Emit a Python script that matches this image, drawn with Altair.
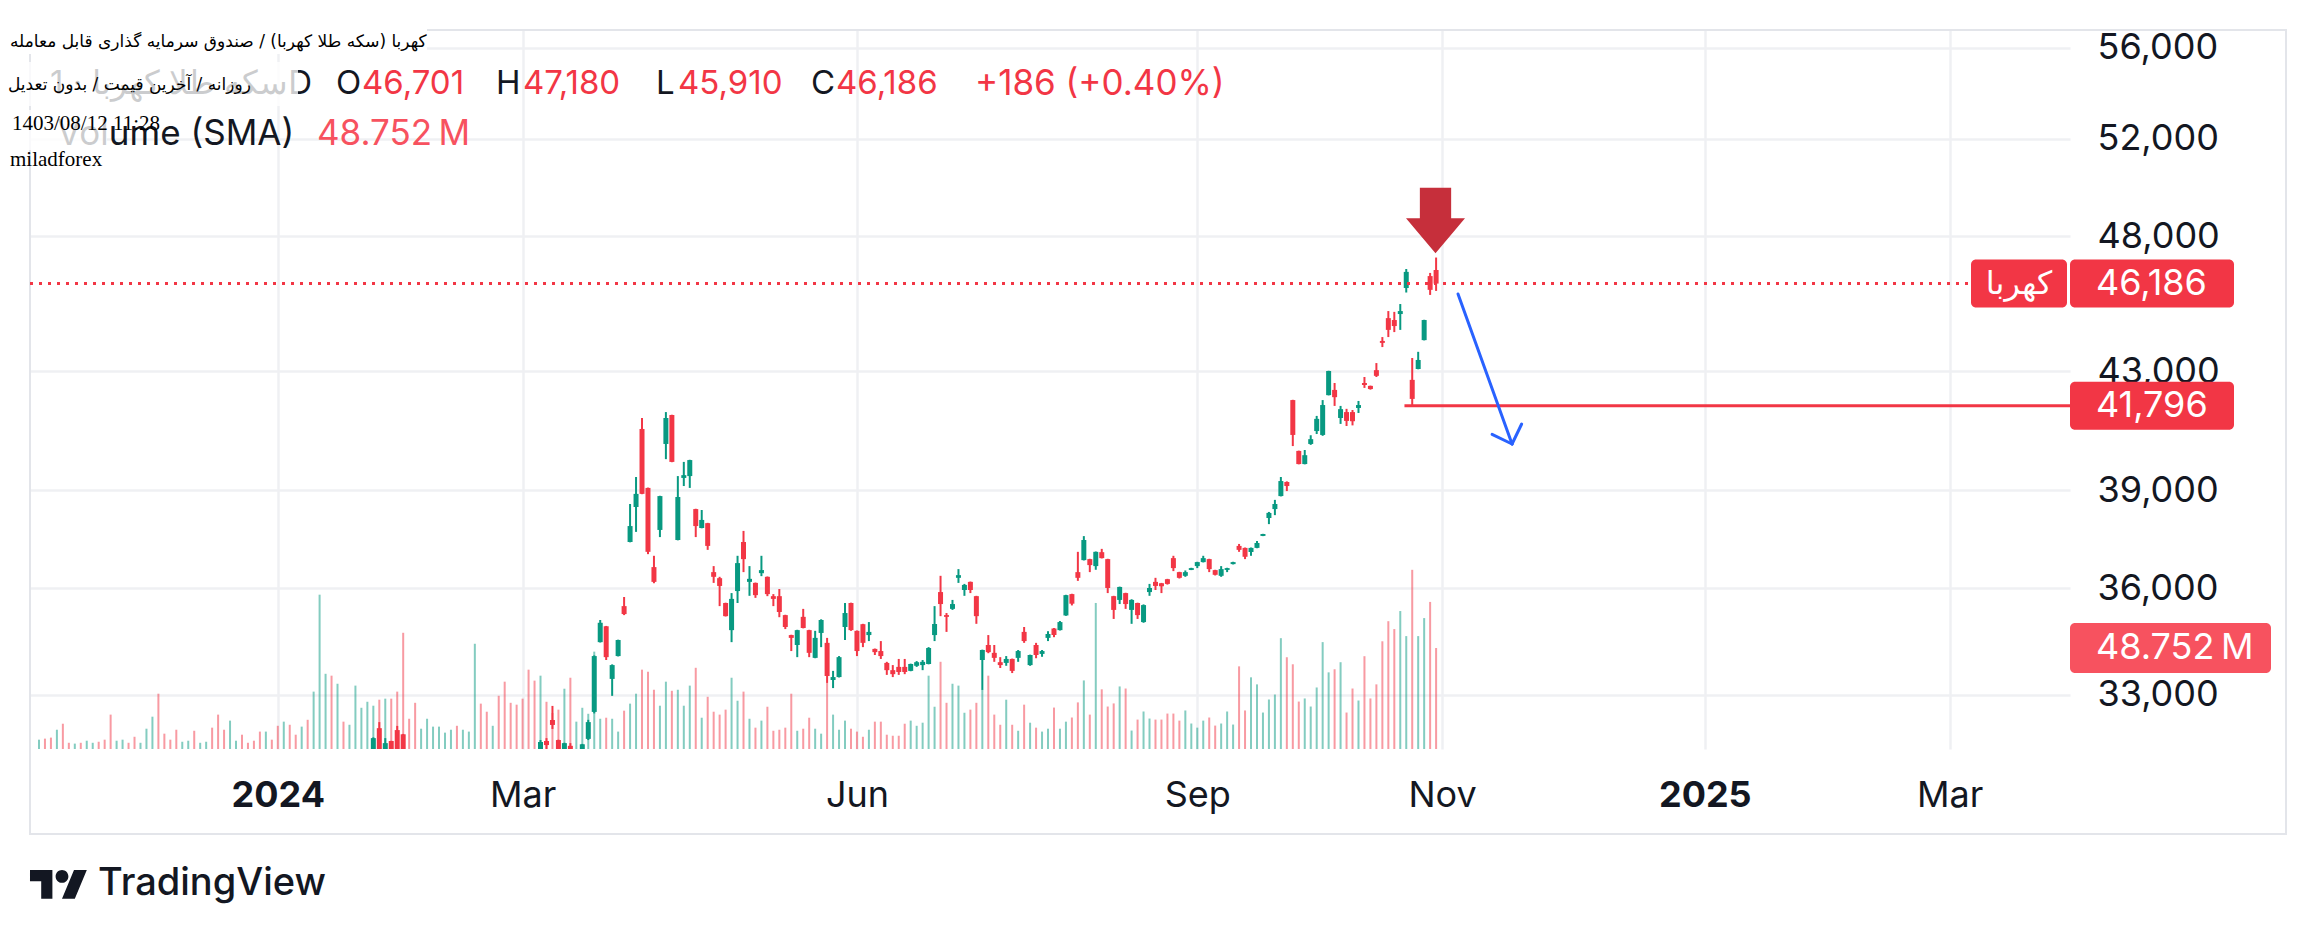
import altair as alt
import pandas as pd

# ---------------- values ----------------
# bar index 0 = first daily bar at the left edge of the chart (early Jan 2024)
first_candle = 56          # candles before this index are below the visible price range

opens = [
    31300, 32110, 31400, 31775,                                              # 56-59
    32060, 31950, None, None, None, None, None, None, None, None,            # 60-69
    None, None, None, None, None, None, None, None, None, None,              # 70-79
    None, None, None, None, 31400, 31775, 32325, 31800, 31450, 31650,        # 80-89
    None, 31450, 31830, 32540, 34450, 34900, 33430, 34060, 35480, 37390,     # 90-99
    38475, 41010, 39080, 36630, 37760, 40510, 41480, 37450, 39400, 39460,    # 100-109
    38410, 37820, 37970, 36480, 36300, 35570, 34790, 35920, 37390, 36190,    # 110-119
    36160, 36450, 36340, 35770, 35770, 35220, 34650, 34370, 35170, 34790,    # 120-129
    34010, 34710, 34430, 33400, 33480, 34880, 35570, 34770, 34960, 34650,    # 130-139
    34260, 34200, 33870, 33670, 33760, 33760, 33650, 33790, 33810, 33840,    # 140-149
    34650, 35890, 35220, 35400, 36310, 35950, 36190, 35770, 33950, 34370,    # 150-159
    34150, 33890, 33870, 33980, 34010, 34740, 33810, 34370, 34120, 34570,    # 160-169
    34840, 34790, 35210, 35830, 36480, 36840, 36870, 36660, 37080, 36870,    # 170-179
    35770, 35660, 35860, 35370, 35570, 35020, 35890, 36190, 36150, 36270,    # 180-189
    36900, 36480, 36370, 36545, 36660, 36780, 36870, 36540, 36370, 36545,    # 190-199
    36720, 37270, 37210, 37085, 37210, 37575, 38130, 38410, 38820, 39270,    # 200-209
    41990, 40280, 39850, 40510, 40940, 40810, 42160, 42340, 41380, 41580,    # 210-219
    41580, 41720, 42580, 42480, 43030, 44070, 44900, 44830, 45050, 46020,    # 220-229
    42690, 43070, 44100, 46470, 46701,                                       # 230-234
]
highs = [
    31870, 32270, 31850, 31780,
    32170, 31960, None, None, None, None, None, None, None, None,
    None, None, None, None, None, None, None, None, None, None,
    None, None, None, None, 31800, 31850, 32700, 31810, 31730, 31720,
    None, 31700, 32330, 34080, 35080, 34910, 33830, 34520, 35745, 38570,
    39430, 41380, 39090, 36970, 38830, 41580, 41490, 39460, 39920, 39990,
    38420, 38380, 37980, 36660, 36340, 35580, 35860, 36970, 37730, 36660,
    36170, 36970, 36350, 35830, 35980, 35230, 34660, 34800, 35400, 34800,
    34770, 35100, 34570, 33650, 34060, 35570, 35580, 34780, 34970, 35020,
    34270, 34480, 33900, 33810, 33980, 33980, 33850, 33920, 33950, 34310,
    35480, 36370, 35280, 35660, 36570, 36130, 36200, 35780, 34240, 34650,
    34370, 34030, 34060, 33990, 34230, 34880, 34100, 34430, 34230, 34760,
    34850, 35050, 35810, 35840, 37090, 37570, 36880, 37100, 37180, 36880,
    35780, 36050, 35870, 35680, 35580, 35530, 36130, 36310, 36160, 36280,
    36970, 36490, 36530, 36610, 36790, 36970, 36880, 36550, 36660, 36610,
    36790, 37330, 37220, 37220, 37420, 37640, 38320, 38700, 39430, 39290,
    42000, 40290, 40310, 40800, 41450, 41990, 43010, 42580, 41790, 41690,
    41650, 41960, 42790, 42490, 43280, 44210, 45160, 45130, 45420, 46740,
    43460, 43680, 44840, 46590, 47180,
]
lows = [
    31200, 31300, 31300, 31350,
    31350, 31300, None, None, None, None, None, None, None, None,
    None, None, None, None, None, None, None, None, None, None,
    None, None, None, None, 31350, 31560, 32090, 31450, 31400, 31450,
    None, 31400, 31800, 32500, 34440, 33950, 32970, 34050, 35220, 37380,
    37700, 38880, 37020, 36150, 37540, 40010, 39910, 37440, 39140, 39080,
    37540, 37810, 37150, 36160, 35480, 35180, 34450, 35570, 36480, 35780,
    35720, 36360, 35770, 35480, 35160, 34820, 34200, 34030, 34840, 34030,
    34000, 34310, 33320, 33180, 33470, 34510, 34770, 34060, 34310, 34480,
    34090, 33980, 33540, 33480, 33540, 33560, 33640, 33760, 33670, 33830,
    34480, 35190, 34740, 35370, 36160, 35780, 35860, 34970, 33130, 34140,
    33900, 33730, 33790, 33590, 33900, 34430, 33790, 34000, 34040, 34480,
    34590, 34780, 35200, 35500, 36220, 36830, 36480, 36550, 36890, 35860,
    35110, 35540, 35400, 34970, 35110, 35000, 35780, 35950, 35860, 36110,
    36510, 36290, 36340, 36540, 36600, 36770, 36480, 36380, 36340, 36480,
    36710, 37090, 36870, 36970, 37200, 37570, 37940, 38220, 38810, 38980,
    40440, 39840, 39840, 40480, 40840, 40780, 42150, 41790, 41180, 41110,
    41130, 41550, 42410, 42350, 42790, 43850, 44210, 44390, 44470, 45850,
    41796, 43060, 44090, 45760, 45910,
]
closes = [
    31850, 31400, 31720, 31400,
    31450, 31400, None, None, None, None, None, None, None, None,
    None, None, None, None, None, None, None, None, None, None,
    None, None, None, None, 31750, 31670, 32195, 31500, 31720, 31500,
    None, 31690, 32270, 34060, 35000, 34030, 33810, 34510, 35250, 37880,
    38890, 38890, 37090, 36190, 38820, 41380, 39920, 38790, 39490, 39980,
    37880, 38070, 37270, 36340, 36070, 35190, 35690, 36750, 36870, 36280,
    35800, 36540, 35830, 35690, 35310, 34880, 34570, 34790, 34850, 34150,
    34570, 35080, 33510, 33480, 34030, 35280, 34790, 34200, 34430, 34740,
    34170, 34060, 33670, 33560, 33620, 33620, 33840, 33890, 33900, 34285,
    34965, 35540, 35170, 35540, 36390, 36100, 35950, 35190, 34230, 34170,
    34010, 33810, 33980, 33650, 34200, 34480, 34090, 34090, 34200, 34680,
    34650, 35020, 35800, 35550, 36310, 37450, 36690, 37090, 36900, 36010,
    35370, 36040, 35540, 35660, 35220, 35510, 36010, 36070, 36060, 36130,
    36600, 36310, 36480, 36600, 36780, 36900, 36570, 36400, 36570, 36600,
    36780, 37150, 36940, 37210, 37360, 37635, 38290, 38570, 39300, 39140,
    40810, 39850, 40140, 40670, 41350, 41820, 43000, 42090, 41680, 41280,
    41270, 41820, 42510, 42370, 42830, 44000, 44470, 44610, 45160, 46630,
    42030, 43390, 44830, 45950, 46186,
]

# volume per bar, millions
volumes = [
    4.5, 5.0, 5.5, 9.3, 12.2, 3.0, 2.6, 3.0, 4.0, 3.0,
    3.5, 4.5, 16.6, 4.0, 4.5, 3.0, 5.9, 3.0, 9.8, 15.6,
    26.7, 7.4, 4.5, 9.3, 3.5, 4.0, 8.8, 3.0, 3.5, 10.3,
    16.6, 9.3, 13.7, 4.0, 6.9, 3.0, 4.0, 8.4, 8.4, 4.5,
    11.2, 13.2, 11.7, 6.9, 10.8, 14.1, 27.7, 74.5, 36.3, 35.4,
    31.5, 13.2, 11.7, 30.6, 19.9, 22.8, 20.9, 23.8, 24.3, 24.3,
    27.7, 56.1, 14.6, 22.3, 9.8, 14.6, 10.8, 10.8, 7.9, 9.3,
    11.2, 9.3, 8.4, 50.8, 21.9, 18.0, 11.2, 25.7, 32.5, 22.3,
    21.4, 24.3, 38.3, 33.0, 35.4, 22.8, 17.4, 19.0, 29.1, 34.4,
    13.2, 19.9, 17.0, 47.0, 14.6, 15.1, 14.6, 8.4, 18.5, 21.9,
    26.7, 38.3, 37.3, 28.6, 20.9, 32.5, 28.1, 28.6, 20.9, 30.6,
    39.2, 15.1, 25.2, 18.0, 16.6, 19.0, 34.4, 23.3, 27.7, 14.6,
    10.3, 13.7, 20.4, 8.8, 9.3, 10.3, 26.7, 8.8, 9.8, 15.1,
    9.8, 7.4, 31.9, 16.6, 9.3, 13.7, 9.8, 8.4, 5.9, 9.3,
    13.2, 13.2, 6.9, 6.4, 6.4, 12.2, 13.7, 11.2, 12.7, 35.4,
    20.4, 42.1, 22.3, 31.5, 30.6, 17.5, 19.0, 22.3, 28.6, 35.4,
    16.6, 11.7, 23.8, 11.7, 8.8, 21.4, 12.7, 10.3, 8.4, 9.8,
    20.0, 9.8, 13.2, 15.2, 22.5, 33.1, 16.6, 70.5, 28.8, 20.5,
    22.0, 30.2, 29.2, 8.9, 14.2, 18.1, 14.7, 14.2, 14.2, 17.1,
    17.1, 13.7, 18.6, 12.3, 10.3, 13.7, 15.2, 11.3, 12.3, 18.1,
    11.8, 39.9, 18.6, 34.6, 31.2, 17.6, 23.9, 26.3, 53.5, 44.3,
    40.9, 22.9, 24.4, 20.5, 29.7, 51.6, 37.0, 38.5, 41.9, 17.6,
    29.2, 23.4, 44.8, 24.4, 31.2, 52.0, 61.7, 57.9, 66.6, 54.5,
    86.5, 54.5, 63.2, 71.0, 48.752,
]
# bar direction (g = up, r = down)
directions = list(
    "grrgrrgrgg" "rrrggrrggg" "rrrrggrggr" "rrggrrrrgr" "rgrrgrgggr"
    "grgggggrgr" "rrrrgggggg" "rgggrrgrrr" "rrrrgrrrgr" "gggggrggrg"
    "grrrggrggg" "rgrrrrggrg" "rgrrrrrgrr" "ggrgggrrrg" "rrrrrrgggg"
    "grrgggrrgr" "rrgrgrgrgg" "rggrrgrgrr" "rgrgrggrrr" "rrggggrrgg"
    "grrggggggr" "rrgggggrgr" "rgrrrrrrgg" "rggrr"
)

x_tick_index = [40, 81, 137, 194, 235, 279, 320]
x_tick_labels = ["2024", "Mar", "Jun", "Sep", "Nov", "2025", "Mar"]
price_ticks = [33000, 36000, 39000, 43000, 48000, 52000, 56000]

last_open, last_high, last_low, last_close = 46701, 47180, 45910, 46186
change, change_pct = 186, 0.40
last_volume = 48.752
symbol = "کهربا"
support_price = 41796
support_from_index = 228.7

arrow_seg = ["shaft", "shaft", "left", "left", "right", "right"]
arrow_idx = [237.67, 246.72, 243.38, 246.72, 248.33, 246.72]
arrow_price = [45794, 40509, 40831, 40509, 41176, 40509]
arrow_step = [0, 1, 0, 1, 0, 1]
marker_idx, marker_price = 233.9, 48630

title_fa = "کهربا (سکه طلا کهربا) / صندوق سرمایه گذاری قابل معامله"
subtitle_fa = "روزانه / آخرین قیمت / بدون تعدیل"
legend_name = "سکه طلا کهربا · 1D"
stamp = "1403/08/12 11:28"
author = "miladforex"

assert len(volumes) == len(directions) == 235
assert len(opens) == len(highs) == len(lows) == len(closes) == 235 - first_candle

# ---------------- tables ----------------
n = len(volumes)
vol_df = pd.DataFrame({"i": list(range(n)), "vol": volumes, "zero": [0] * n, "dir": directions})
cdf = pd.DataFrame({
    "i": list(range(first_candle, n)),
    "open": opens, "high": highs, "low": lows, "close": closes,
})
cdf["dir"] = [directions[i] for i in cdf["i"]]
cdf = cdf.dropna().reset_index(drop=True)

UP, DOWN, TEXT, GRID = "#089981", "#F23645", "#131722", "#EFF0F3"

XS = alt.Scale(domain=[-0.667, 339.333], nice=False, zero=False)
YS = alt.Scale(type="log", domain=[31568, 56827], nice=False)
VS = alt.Scale(domain=[0, 347.1], nice=False, zero=True)

label_expr = " : ".join(f"datum.value == {v} ? '{l}'" for v, l in zip(x_tick_index, x_tick_labels)) + " : ''"
year_test = " || ".join(f"datum.value == {v}" for v, l in zip(x_tick_index, x_tick_labels) if l.isdigit())

XAXIS = alt.Axis(values=x_tick_index, labelExpr=label_expr, title=None, grid=True, gridColor=GRID,
                 gridWidth=2.5, domain=False, ticks=False, tickSize=0, labelPadding=46,
                 labelBaseline="middle", labelFont="Inter", labelFontSize=36, labelColor=TEXT,
                 labelFontWeight={"condition": {"test": year_test, "value": "bold"}, "value": "normal"},
                 labelOverlap=False, labelFlush=False)
YAXIS = alt.Axis(orient="right", values=price_ticks, format=",.0f", title=None, grid=True,
                 gridColor=GRID, gridWidth=2.5, domain=False, ticks=False, tickSize=0,
                 labelPadding=27, labelFont="Inter", labelFontSize=36, labelColor=TEXT,
                 labelBaseline="middle", labelOverlap=False)


def X(f):
    return alt.X(f"{f}:Q", scale=XS, axis=XAXIS)


def Y(f):
    return alt.Y(f"{f}:Q", scale=YS, axis=YAXIS)


def V(f):
    return alt.Y(f"{f}:Q", scale=VS, axis=None)


COLOR = alt.Color("dir:N", scale=alt.Scale(domain=["g", "r"], range=[UP, DOWN]), legend=None)

# ---------------- volume pane ----------------
vlab = pd.DataFrame({"vol": [last_volume], "txt": [f"{last_volume:.3f}\u2009M"]})
vol_bars = alt.Chart(vol_df).mark_rule(strokeWidth=2, opacity=0.5).encode(
    x=X("i"), y=V("vol"), y2=alt.Y2("zero"), color=COLOR)
vol_box = alt.Chart(vlab).mark_rect(color="#F7525F", cornerRadius=5, yOffset=-25, y2Offset=25).encode(
    x=alt.value(2040), x2=alt.value(2241), y=V("vol"), y2=alt.Y2("vol"))
vol_txt = alt.Chart(vlab).mark_text(align="left", baseline="middle", font="Inter", fontSize=36, color="white").encode(
    x=alt.value(2066), y=V("vol"), text="txt:N")
vol_group = alt.layer(vol_bars, vol_box, vol_txt)

# ---------------- price pane ----------------
last_df = pd.DataFrame({"p": [last_close], "txt": [f"{last_close:,}"]})
sup_df = pd.DataFrame({"i": [support_from_index], "p": [support_price], "txt": [f"{support_price:,}"]})
arrow_df = pd.DataFrame({"seg": arrow_seg, "i": arrow_idx, "p": arrow_price, "k": arrow_step})
marker_df = pd.DataFrame({"i": [marker_idx], "p": [marker_price]})
boxes_df = pd.concat([last_df, sup_df[["p", "txt"]]], ignore_index=True)

DOWN_ARROW = ("M -0.474 -0.994 L 0.474 -0.994 L 0.474 -0.067 L 0.894 -0.067 L 0 0.994 "
              "L -0.894 -0.067 L -0.474 -0.067 Z")

wicks = alt.Chart(cdf).mark_rule(strokeWidth=2, clip=True).encode(
    x=X("i"), y=Y("low"), y2=alt.Y2("high"), color=COLOR)
bodies = alt.Chart(cdf).mark_bar(size=5, clip=True).encode(
    x=X("i"), y=Y("open"), y2=alt.Y2("close"), color=COLOR)
last_line = alt.Chart(last_df).mark_rule(color=DOWN, strokeWidth=3, strokeDash=[3, 6]).encode(
    x=alt.value(0), x2=alt.value(1941), y=Y("p"))
sup_line = alt.Chart(sup_df).mark_rule(color=DOWN, strokeWidth=3).encode(
    x=X("i"), x2=alt.value(2040), y=Y("p"))
arrow = alt.Chart(arrow_df).mark_line(color="#2962FF", strokeWidth=3, strokeCap="round", strokeJoin="round").encode(
    x=X("i"), y=Y("p"), detail="seg:N", order="k:Q")
marker = alt.Chart(marker_df).mark_point(shape=DOWN_ARROW, filled=True, size=4356, color="#C62F3B",
                                        opacity=1, strokeWidth=0).encode(x=X("i"), y=Y("p"))
sym_box = alt.Chart(last_df).mark_rect(color=DOWN, cornerRadius=5, yOffset=-24, y2Offset=24).encode(
    x=alt.value(1941), x2=alt.value(2037), y=Y("p"), y2=alt.Y2("p"))
sym_txt = alt.Chart(last_df).mark_text(text=symbol, align="center", baseline="middle", font="DejaVu Sans",
                                       fontSize=32, color="white").encode(x=alt.value(1989), y=Y("p"))
p_box = alt.Chart(boxes_df).mark_rect(color=DOWN, cornerRadius=5, yOffset=-24, y2Offset=24).encode(
    x=alt.value(2040), x2=alt.value(2204), y=Y("p"), y2=alt.Y2("p"))
p_txt = alt.Chart(boxes_df).mark_text(align="left", baseline="middle", font="Inter", fontSize=36, color="white").encode(
    x=alt.value(2066), y=Y("p"), text="txt:N")
price_group = alt.layer(wicks, bodies, last_line, sup_line, arrow, marker, sym_box, sym_txt, p_box, p_txt)

# ---------------- decoration: frame, legend, notes, footer ----------------
one = pd.DataFrame({"k": [0]})


def label(text, x, y, size, color=TEXT, font="Inter", align="left", weight="normal"):
    return alt.Chart(one).mark_text(text=text, font=font, fontSize=size, color=color, align=align,
                                    baseline="middle", fontWeight=weight).encode(x=alt.value(x), y=alt.value(y))


def panel(x, x2, y, y2, opacity):
    return alt.Chart(one).mark_rect(color="white", opacity=opacity).encode(
        x=alt.value(x), x2=alt.value(x2), y=alt.value(y), y2=alt.value(y2))


frame = alt.Chart(one).mark_rect(fillOpacity=0, stroke="#E3E5EA", strokeWidth=2).encode(
    x=alt.value(0), x2=alt.value(2256), y=alt.value(0), y2=alt.value(804))

legend = [
    label(legend_name, 282, 54, 33, align="right"),
    label("O", 306, 54, 33), label(f"{last_open:,}", 332, 54, 33, color=DOWN),
    label("H", 466, 54, 33), label(f"{last_high:,}", 493, 54, 33, color=DOWN),
    label("L", 626, 54, 33), label(f"{last_low:,}", 648, 54, 33, color=DOWN),
    label("C", 781, 54, 33), label(f"{last_close:,}", 806, 54, 33, color=DOWN),
    label(f"+{change} (+{change_pct:.2f}%)", 945, 54, 35, color=DOWN),
    label("Volume (SMA)", 27, 104, 35),
    label(f"{last_volume:.3f}\u2009M", 287, 104, 35, color="#F7525F"),
]
notes = [
    panel(-22, 397, -2, 24, 1.0),
    panel(-22, 268, 32, 76, 0.78),
    panel(-22, 77, 80, 120, 0.78),
    label(title_fa, -20, 12, 17, color="black", font="DejaVu Sans"),
    label(subtitle_fa, -22, 55, 17, color="black", font="DejaVu Sans"),
    label(stamp, -18, 94, 21, color="black", font="Liberation Serif"),
    label(author, -20, 130, 21, color="black", font="Liberation Serif"),
]
TV_LOGO = ("M -0.947 -0.48 L -0.2 -0.48 L -0.2 0.48 L -0.573 0.48 L -0.573 -0.107 L -0.947 -0.107 Z "
           "M -0.093 -0.267 A 0.213 0.213 0 1 0 0.333 -0.267 A 0.213 0.213 0 1 0 -0.093 -0.267 Z "
           "M 0.12 0.48 L 0.52 -0.48 L 0.947 -0.48 L 0.547 0.48 Z")
footer = [
    alt.Chart(one).mark_point(shape=TV_LOGO, filled=True, size=3600, color=TEXT, opacity=1, strokeWidth=0).encode(
        x=alt.value(28.4), y=alt.value(854.4)),
    label("TradingView", 68, 854, 38, weight=500),
]

chart = alt.layer(frame, vol_group, price_group, *legend, *notes, *footer).resolve_scale(
    y="independent"
).properties(
    width=2040, height=719,
    padding={"left": 22, "top": 22, "right": 230, "bottom": 174},
    autosize=alt.AutoSizeParams(type="none"),
    background="white",
).configure_view(strokeWidth=0)

chart.save("out.html", embed_options={"renderer": "svg", "actions": False})
